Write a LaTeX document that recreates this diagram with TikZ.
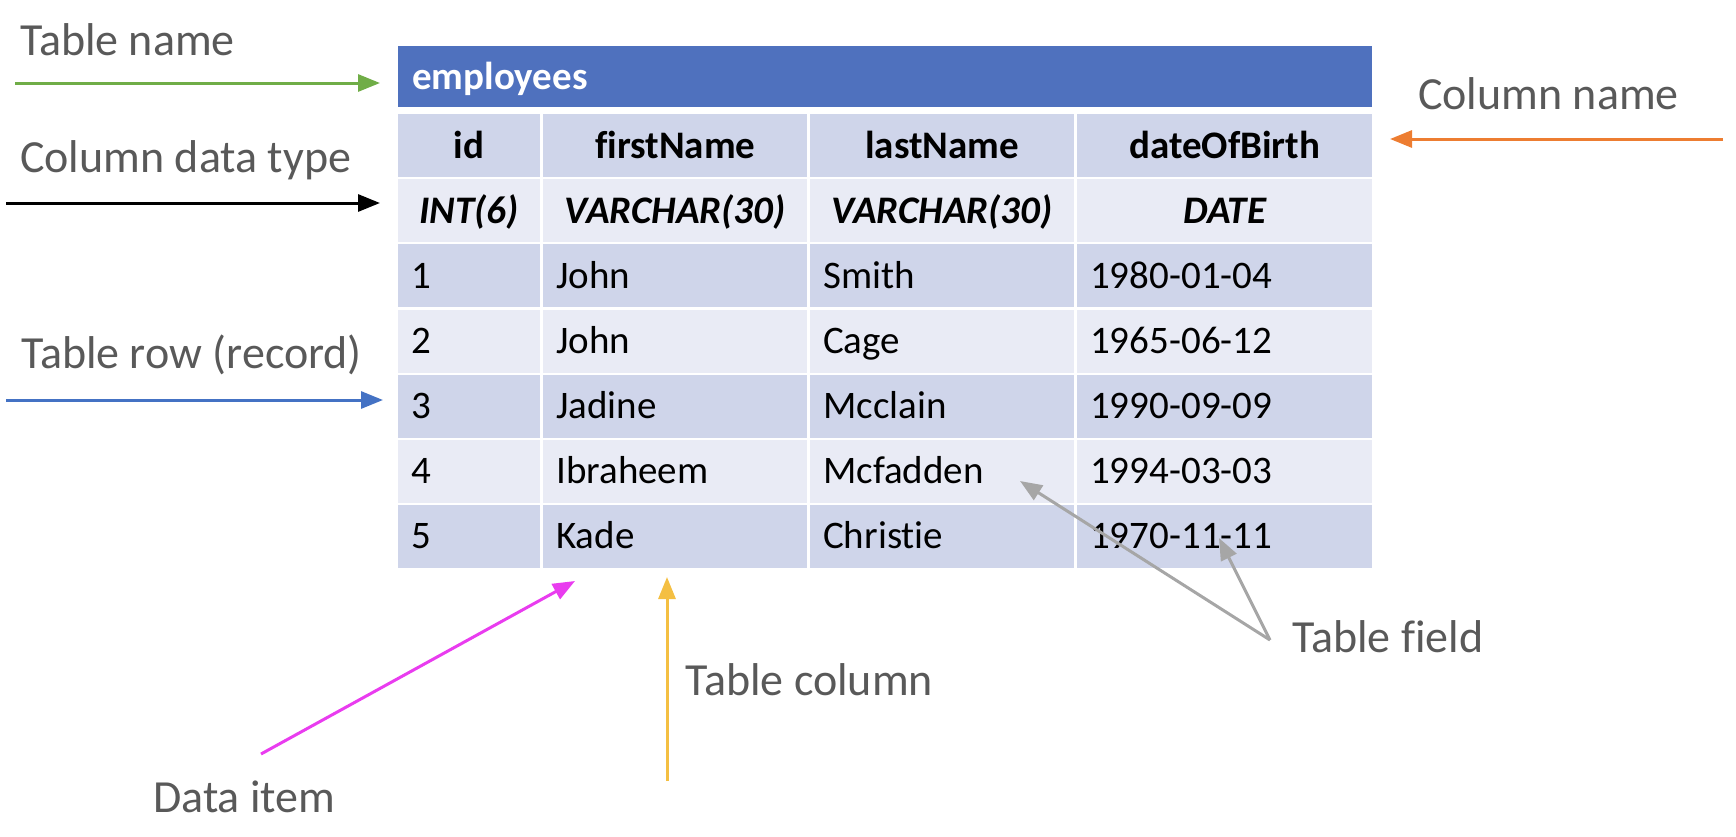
\documentclass[tikz,border=0pt]{standalone}
\usepackage{fontspec}
\setmainfont{Carlito}[Ligatures=NoCommon]
\usetikzlibrary{arrows.meta, positioning}

\definecolor{titleblue}{HTML}{4F71BE}
\definecolor{rowdark}{HTML}{CFD5EA}
\definecolor{rowlight}{HTML}{E9EBF5}
\definecolor{notegray}{HTML}{595959}
\definecolor{arrowgreen}{HTML}{70AD47}
\definecolor{arrowblue}{HTML}{4472C4}
\definecolor{arroworange}{HTML}{ED7D31}
\definecolor{arrowmagenta}{HTML}{E93CEF}
\definecolor{arrowyellow}{HTML}{F4BF42}
\definecolor{arrowgray}{HTML}{A6A6A6}

\newcommand{\cellfont}{\fontsize{39}{46}\selectfont}
\newcommand{\notefont}{\fontsize{46}{54}\selectfont}

\begin{document}
\begin{tikzpicture}[x=1pt, y=-1pt,
    cell/.style={anchor=north west, minimum height=63pt, inner xsep=13pt, inner ysep=0pt, text height=24.6pt, text depth=0pt, font=\cellfont},
    colA/.style={cell, minimum width=142pt, text width=116pt},
    colB/.style={cell, minimum width=264pt, text width=238pt},
    colC/.style={cell, minimum width=264pt, text width=238pt},
    colD/.style={cell, minimum width=295pt, text width=269pt},
    note/.style={anchor=base west, inner sep=0pt, text=notegray, font=\notefont},
    pointer/.style={line width=3pt, -{Triangle[length=22pt, width=17pt]}}
]
\useasboundingbox (0,0) rectangle (1736,836);

% Table name bar
\node[cell, fill=titleblue, minimum width=974pt, minimum height=61pt, text width=946pt, inner xsep=14pt, align=left, text=white, font=\cellfont\bfseries] (title) at (398,46) {employees};

% Column names and data types
\foreach \c/\x/\h/\t in {A/398/id/INT(6), B/543/firstName/VARCHAR(30), C/810/lastName/VARCHAR(30), D/1077/dateOfBirth/DATE} {
    \node[col\c, fill=rowdark, align=center, font=\cellfont\bfseries] (head\c) at (\x,114) {\h};
    \node[col\c, fill=rowlight, align=center, font=\cellfont\bfseries\itshape] (type\c) at (\x,179.1) {\t};
}

% Records
\foreach \r/\y/\fillc/\id/\first/\last/\dob in {1/244.2/rowdark/1/John/Smith/1980-01-04, 2/309.3/rowlight/2/John/Cage/1965-06-12, 3/374.4/rowdark/3/Jadine/Mcclain/1990-09-09, 4/439.5/rowlight/4/Ibraheem/Mcfadden/1994-03-03, 5/504.6/rowdark/5/Kade/Christie/1970-11-11} {
    \node[colA, fill=\fillc, align=left] (r\r A) at (398,\y) {\id};
    \node[colB, fill=\fillc, align=left] (r\r B) at (543,\y) {\first};
    \node[colC, fill=\fillc, align=left] (r\r C) at (810,\y) {\last};
    \node[colD, fill=\fillc, align=left] (r\r D) at (1077,\y) {\dob};
}

% Notes
\node[note] (tablename) at (20,55) {Table name};
\node[note] (datatype) at (20,172) {Column data type};
\node[note] (tablerow) at (21,368) {Table row (record)};
\node[note] (colname) at (1418,109) {Column name};
\node[note] (tablefield) at (1292,652) {Table field};
\node[note] (tablecol) at (685,695) {Table column};
\node[note] (dataitem) at (153,812) {Data item};

% Arrow ends
\coordinate (tablename-tail) at (15,83);
\coordinate (tablename-tip) at (380,83);
\coordinate (datatype-tail) at (6,203);
\coordinate (datatype-tip) at (380,203);
\coordinate (tablerow-tail) at (6,400);
\coordinate (tablerow-tip) at (383,400);
\coordinate (colname-tail) at (1723,139);
\coordinate (colname-tip) at (1390,139);
\coordinate (tablefield-tail) at (1270,640);
\coordinate (tablefield-tipA) at (1020,481);
\coordinate (tablefield-tipB) at (1219,538);
\coordinate (tablecol-tail) at (667,781);
\coordinate (tablecol-tip) at (667,577);
\coordinate (dataitem-tail) at (261,754);
\coordinate (dataitem-tip) at (575,581);

% Arrows
\draw[pointer, arrowgreen] (tablename-tail) -- (tablename-tip);
\draw[pointer, black] (datatype-tail) -- (datatype-tip);
\draw[pointer, arrowblue] (tablerow-tail) -- (tablerow-tip);
\draw[pointer, arroworange] (colname-tail) -- (colname-tip);
\draw[pointer, arrowgray] (tablefield-tail) -- (tablefield-tipA);
\draw[pointer, arrowgray] (tablefield-tail) -- (tablefield-tipB);
\draw[pointer, arrowyellow] (tablecol-tail) -- (tablecol-tip);
\draw[pointer, arrowmagenta] (dataitem-tail) -- (dataitem-tip);

\end{tikzpicture}
\end{document}
